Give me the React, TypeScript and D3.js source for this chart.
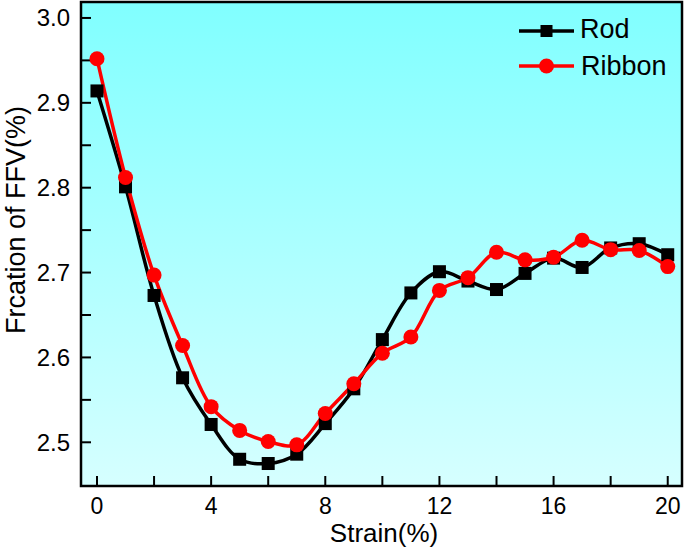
import React from "react";
import * as d3 from "d3";

const strain = [0,1,2,3,4,5,6,7,8,9,10,11,12,13,14,15,16,17,18,19,20];
const rod = [2.914,2.801,2.673,2.576,2.521,2.480,2.475,2.486,2.522,2.563,2.621,2.676,2.701,2.690,2.680,2.699,2.717,2.706,2.729,2.734,2.721];
const ribbon = [2.952,2.812,2.697,2.614,2.542,2.514,2.501,2.497,2.534,2.569,2.605,2.624,2.679,2.694,2.724,2.715,2.718,2.738,2.727,2.726,2.707];
const xTicks = [0,4,8,12,16,20];
const xMinor = [2,6,10,14,18];
const yTicks = [2.5,2.6,2.7,2.8,2.9,3.0];
const yMinor = [2.55,2.65,2.75,2.85,2.95];
const seriesNames = ["Rod","Ribbon"];

export default function App() {
  const W = 685, H = 547;
  const L = 81, R = 682, T = 2, B = 486;
  const x = d3.scaleLinear().domain([-0.56, 20.5]).range([L, R]);
  const y = d3.scaleLinear().domain([2.4485, 3.0188]).range([B, T]);
  const line = d3.line<number>().x((_, i) => x(strain[i])).y(d => y(d)).curve(d3.curveCatmullRom.alpha(0.5));
  const font = "'Liberation Sans', Arial, sans-serif";
  const tk = 10;
  return (
    <svg width={W} height={H} style={{ position: "absolute", left: 0, top: 0 }}>
      <defs>
        <linearGradient id="bg" x1="0" y1="0" x2="0" y2="1">
          <stop offset="0%" stopColor="#80ffff" />
          <stop offset="100%" stopColor="#d6ffff" />
        </linearGradient>
        <clipPath id="clip"><rect x={L} y={T} width={R - L} height={B - T} /></clipPath>
      </defs>
      <rect x={0} y={0} width={W} height={H} fill="#fff" />
      <rect x={L} y={T} width={R - L} height={B - T} fill="url(#bg)" />
      {xTicks.concat(xMinor).map((t, i) => (
        <line key={"xt" + i} x1={x(t)} x2={x(t)} y1={B} y2={B - tk} stroke="#000" strokeWidth={2} />
      ))}
      {yTicks.concat(yMinor).map((t, i) => (
        <line key={"yt" + i} x1={L} x2={L + tk} y1={y(t)} y2={y(t)} stroke="#000" strokeWidth={2} />
      ))}
      <g clipPath="url(#clip)">
        <path d={line(rod) || ""} fill="none" stroke="#000" strokeWidth={3.5} />
        <path d={line(ribbon) || ""} fill="none" stroke="#ff0000" strokeWidth={3.5} />
        {rod.map((v, i) => (
          <rect key={"r" + i} x={x(strain[i]) - 6.5} y={y(v) - 6.5} width={13} height={13} fill="#000" />
        ))}
        {ribbon.map((v, i) => (
          <circle key={"c" + i} cx={x(strain[i])} cy={y(v)} r={7.5} fill="#ff0000" />
        ))}
      </g>
      <rect x={L} y={T} width={R - L} height={B - T} fill="none" stroke="#000" strokeWidth={2.5} />
      {xTicks.map((t, i) => (
        <text key={"xl" + i} x={x(t)} y={514} textAnchor="middle" fontFamily={font} fontSize={23} fill="#000">{t}</text>
      ))}
      {yTicks.map((t, i) => (
        <text key={"yl" + i} x={70} y={y(t) + 8.5} textAnchor="end" fontFamily={font} fontSize={24} fill="#000">{t.toFixed(1)}</text>
      ))}
      <text x={384} y={542} textAnchor="middle" fontFamily={font} fontSize={26} fill="#000">Strain(%)</text>
      <text transform={`translate(25, 220) rotate(-90)`} textAnchor="middle" fontFamily={font} fontSize={27} fill="#000">Frcation of FFV(%)</text>
      <g>
        <line x1={519} x2={574} y1={31} y2={31} stroke="#000" strokeWidth={3.5} />
        <rect x={546.5 - 6} y={31 - 6} width={12} height={12} fill="#000" />
        <text x={580} y={38} fontFamily={font} fontSize={27} fill="#000">{seriesNames[0]}</text>
        <line x1={519} x2={574} y1={66} y2={66} stroke="#ff0000" strokeWidth={3.5} />
        <circle cx={546.5} cy={66} r={7.5} fill="#ff0000" />
        <text x={581} y={75} fontFamily={font} fontSize={27} fill="#000">{seriesNames[1]}</text>
      </g>
    </svg>
  );
}
